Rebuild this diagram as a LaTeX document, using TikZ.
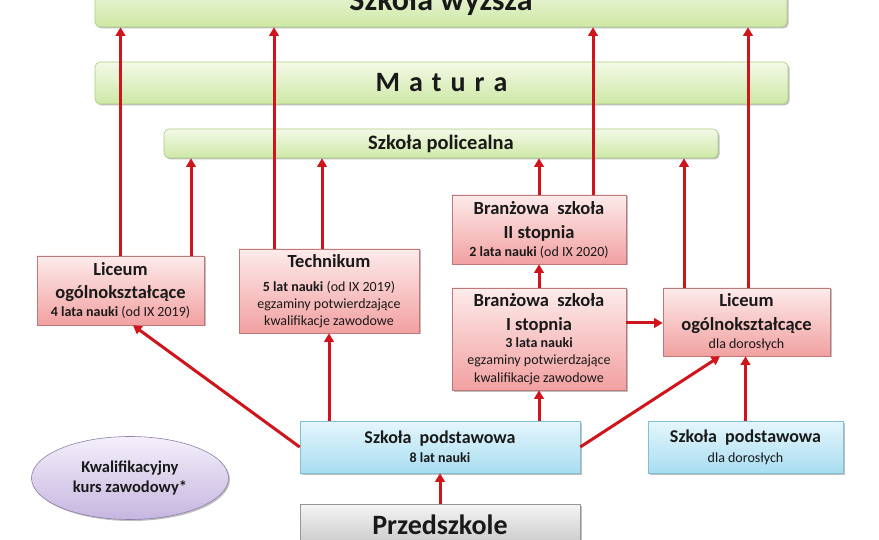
\documentclass[tikz,border=0pt]{standalone}
\usepackage{fontspec}
\setmainfont{Carlito}
\usetikzlibrary{shadows,arrows.meta,shapes.geometric}
\definecolor{arrred}{RGB}{208,20,28}
\definecolor{grntop}{RGB}{243,249,231}
\definecolor{grnbot}{RGB}{206,232,166}
\definecolor{grnline}{RGB}{170,204,130}
\definecolor{pnktop}{RGB}{253,235,235}
\definecolor{pnkbot}{RGB}{242,160,160}
\definecolor{pnkline}{RGB}{190,120,120}
\definecolor{blutop}{RGB}{229,246,252}
\definecolor{blubot}{RGB}{168,221,240}
\definecolor{bluline}{RGB}{130,190,212}
\definecolor{grytop}{RGB}{245,245,245}
\definecolor{grybot}{RGB}{200,200,200}
\definecolor{gryline}{RGB}{150,150,150}
\definecolor{lavtop}{RGB}{244,239,250}
\definecolor{lavbot}{RGB}{198,182,224}
\definecolor{lavline}{RGB}{140,128,168}
\newcommand{\titf}{\fontsize{18.5}{17}\selectfont\bfseries}
\newcommand{\detf}{\fontsize{14}{17}\selectfont}
\begin{document}
\begin{tikzpicture}[x=1pt,y=-1pt,
  box/.style={draw, line width=0.6pt, inner sep=0pt, align=center, text=black!90,
    drop shadow={shadow xshift=1.5pt,shadow yshift=-1.5pt,opacity=0.25,fill=black}},
  greenbox/.style={box, rounded corners=5pt, draw=grnline, top color=grntop, bottom color=grnbot},
  pinkbox/.style={box, draw=pnkline, top color=pnktop, bottom color=pnkbot, font=\detf},
  bluebox/.style={box, draw=bluline, top color=blutop, bottom color=blubot, font=\detf},
  graybox/.style={box, draw=gryline, top color=grytop, bottom color=grybot},
  lavell/.style={box, ellipse, draw=lavline, top color=lavtop, bottom color=lavbot},
  arr/.style={draw=arrred, line width=3pt, -{Triangle[length=8.5pt,width=9.5pt]}}
]
\useasboundingbox (0,0) rectangle (879,540);

% boxes
\node[greenbox, minimum width=692pt, minimum height=50pt, font=\fontsize{32}{34}\selectfont\bfseries] (wyz) at (441,2) {Szkoła wyższa};
\node[greenbox, minimum width=693pt, minimum height=42pt, font=\fontsize{28}{30}\selectfont\bfseries] (mat) at (441.5,83) {M\hspace{9pt}a\hspace{9pt}t\hspace{9pt}u\hspace{9pt}r\hspace{9pt}a};
\node[greenbox, minimum width=554pt, minimum height=29pt, font=\fontsize{20.5}{22}\selectfont\bfseries] (pol) at (441,143.5) {Szkoła policealna};

\node[pinkbox, minimum width=167pt, minimum height=69pt] (lic) at (120.5,290.5)
  {{\titf Liceum}\\[6pt]{\titf ogólnokształcące}\\[1pt]\textbf{4 lata nauki} (od IX 2019)};
\node[pinkbox, minimum width=180pt, minimum height=84pt] (tech) at (329,291)
  {{\titf Technikum}\\[7pt]\textbf{5 lat nauki} (od IX 2019)\\egzaminy potwierdzające\\kwalifikacje zawodowe};
\node[pinkbox, minimum width=174pt, minimum height=69pt] (b2) at (539,229.5)
  {{\titf Branżowa\ \ szkoła}\\[7pt]{\titf II stopnia}\\[1pt]\textbf{2 lata nauki} (od IX 2020)};
\node[pinkbox, minimum width=174pt, minimum height=102pt] (b1) at (539,339)
  {{\titf Branżowa\ \ szkoła}\\[7pt]{\titf I stopnia}\\\textbf{3 lata nauki}\\egzaminy potwierdzające\\[1pt]kwalifikacje zawodowe};
\node[pinkbox, minimum width=167pt, minimum height=68pt] (ld) at (746.5,322)
  {{\titf Liceum}\\[7pt]{\titf ogólnokształcące}\\[1pt]dla dorosłych};

\node[bluebox, minimum width=280pt, minimum height=52pt] (sp) at (440,447)
  {{\fontsize{18}{17}\selectfont\bfseries Szkoła\ \ podstawowa}\\[2pt]\textbf{8 lat nauki}};
\node[bluebox, minimum width=195pt, minimum height=52pt] (spd) at (745.5,447)
  {{\fontsize{18}{17}\selectfont\bfseries Szkoła\ \ podstawowa}\\[3pt]dla dorosłych};
\node[graybox, minimum width=280pt, minimum height=42pt, font=\fontsize{28}{30}\selectfont\bfseries] (prz) at (440,525) {Przedszkole};
\node[lavell, minimum width=197pt, minimum height=83pt, font=\fontsize{16.5}{20}\selectfont\bfseries] (kkz) at (130,478)
  {Kwalifikacyjny\\kurs zawodowy*};

% helper coordinates
\coordinate (licB) at ([xshift=70.5pt]lic.north);
\coordinate (techA) at ([xshift=-55pt]tech.north);
\coordinate (techB) at ([xshift=-7pt]tech.north);
\coordinate (b2A) at ([xshift=54pt]b2.north);
\coordinate (ldA) at ([xshift=-62.5pt]ld.north);
\coordinate (ldB) at ([xshift=1.5pt]ld.north);
\coordinate (b1R) at ([yshift=16pt]b1.east);
\coordinate (licIn) at ([xshift=12.5pt]lic.south);
\coordinate (ldIn) at ([xshift=-26.5pt]ld.south);

% connectors
\draw[arr] (lic.north) -- (lic.north |- wyz.south);
\draw[arr] (licB) -- (licB |- pol.south);
\draw[arr] (techA) -- (techA |- wyz.south);
\draw[arr] (techB) -- (techB |- pol.south);
\draw[arr] (b2.north) -- (b2.north |- pol.south);
\draw[arr] (b2A) -- (b2A |- wyz.south);
\draw[arr] (ldA) -- (ldA |- pol.south);
\draw[arr] (ldB) -- (ldB |- wyz.south);
\draw[arr] (b1.north) -- (b2.south);
\draw[arr] (b1R) -- (b1R -| ld.west);
\draw[arr] (sp.west) -- (licIn);
\draw[arr] (sp.north -| tech.south) -- (tech.south);
\draw[arr] (sp.north -| b1.south) -- (b1.south);
\draw[arr] (sp.east) -- (ldIn);
\draw[arr] (spd.north) -- (spd.north |- ld.south);
\draw[arr] (prz.north) -- (sp.south);
\end{tikzpicture}
\end{document}
